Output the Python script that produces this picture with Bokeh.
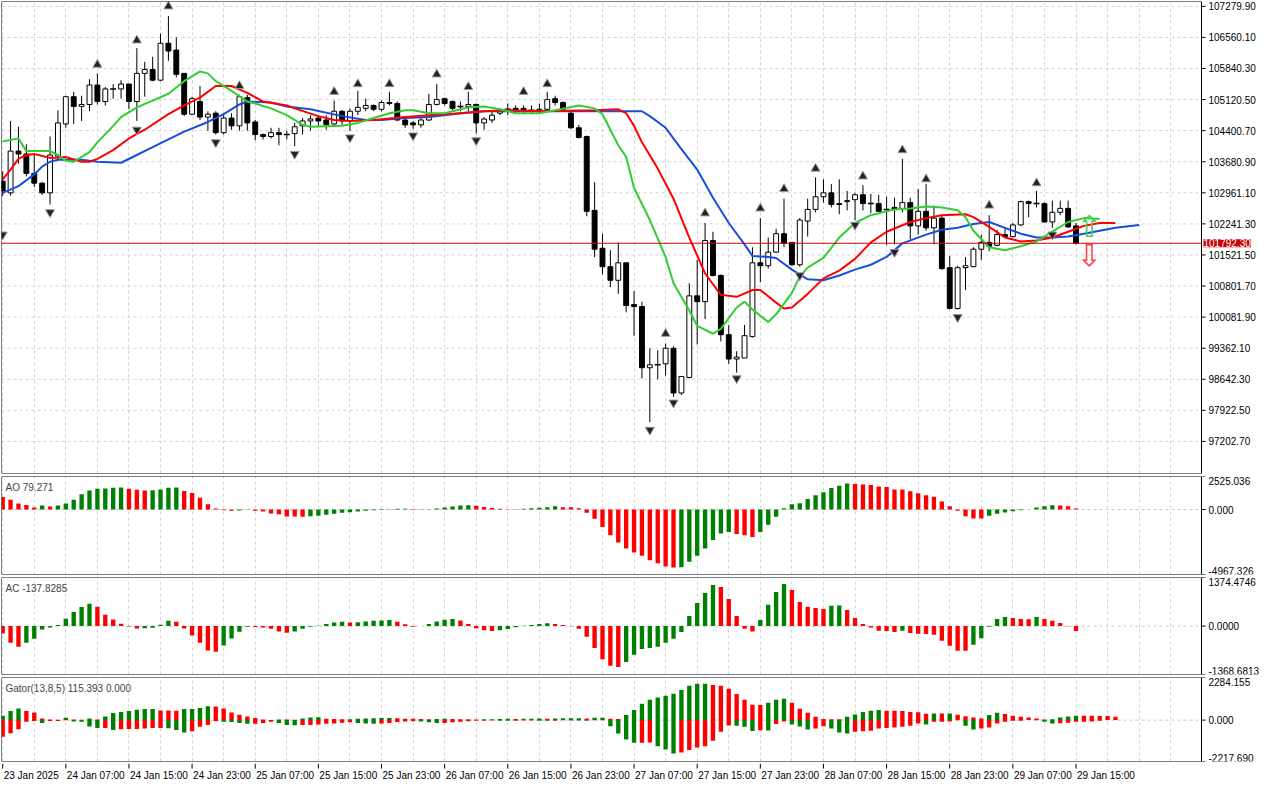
from bokeh.plotting import figure
from bokeh.models import FixedTicker, Label, Range1d, Grid, BoxAnnotation
from bokeh.layouts import column
from bokeh.embed import file_html
from bokeh.resources import INLINE
from bokeh.core.properties import value

# ---------------- data (hourly candles, index 0 = 23 Jan 2025 23:00) ----------------
opens = [103230,102960,103927,103860,103410,103185,102960,103815,104557,105187,
         104962,105007,105457,105075,105367,105367,105480,105075,105727,105817,
         105570,106425,106267,105727,104782,105075,104715,104805,104355,104692,
         104512,105165,104602,104310,104265,104355,104310,104332,104512,104625,
         104692,104647,104557,104850,104625,104850,104917,104985,104895,105052,
         105030,104647,104580,104535,104647,105007,105142,105075,104962,104962,
         105007,104580,104647,104805,104895,104917,104917,104872,104872,104895,
         105142,105052,104805,104467,104265,102555,101677,101250,100935,101340,
         100372,100327,98910,98977,99000,99360,98325,98685,100575,100440,
         101857,101047,99675,99112,99135,99630,101340,101272,101587,102015,
         101812,101295,102307,102577,102870,102960,102690,102757,102802,102915,
         102712,102712,102577,102622,102600,102735,102195,102532,102150,102375,
         101227,100282,101227,101250,101655,101812,101745,101992,101947,102217,
         102757,102712,102712,102285,102510,102600,102195]
highs = [103455,104625,104490,104085,103860,103207,104265,104872,105210,105300,
         105210,105592,105727,105412,105480,105570,105480,106312,105997,106110,
         106650,107055,106560,105727,105187,105435,104850,104850,104805,104805,
         105232,105232,104647,104332,104467,104467,104400,104580,104692,104760,
         104760,104760,105097,104872,104917,105322,105142,105007,105097,105300,
         105075,104670,104625,104692,105255,105480,105165,105097,105075,105300,
         105030,104715,104850,104917,105030,104985,104985,104985,105030,105300,
         105210,105075,104850,104535,104287,103207,102015,101632,101812,101340,
         100687,100440,99360,99315,99472,99405,98707,100867,101407,102262,
         102060,101070,99900,99292,99900,101700,102375,101925,102127,102825,
         101812,102375,102825,103320,103275,103162,103275,103005,102960,103140,
         102937,102915,102870,102847,103747,102847,103050,103162,102667,102442,
         101497,101272,101475,101700,101992,102442,102105,102172,102262,102780,
         102780,103005,102735,102780,102780,102780,102262]
lows = [102892,102892,103635,103342,103095,102915,102690,103725,104467,104557,
        104625,104850,105007,104985,105142,105142,104895,104625,105187,105547,
        105547,106020,105637,104737,104760,104647,104400,104310,104310,104422,
        104400,104400,104175,104197,104220,104062,104197,104040,104310,104400,
        104512,104422,104535,104535,104400,104760,104850,104850,104850,104985,
        104625,104467,104445,104467,104625,104985,104985,104872,104850,104850,
        104332,104422,104580,104760,104760,104805,104805,104805,104805,104850,
        104985,104850,104445,104220,102420,101475,101070,100777,100620,100192,
        99652,98662,97650,98640,98730,98235,98280,98662,99450,100035,
        101025,99517,99000,98797,99135,99607,100890,101205,101565,101700,
        101272,101250,101947,102510,102735,102622,102465,102555,102330,102555,
        102487,102510,101745,101767,102510,101880,101992,102082,101767,101182,
        100260,100260,100710,101250,101407,101610,101722,101925,101925,102195,
        102397,102622,102262,102150,102442,102150,101767]
closes = [103005,103927,103860,103410,103185,102960,103837,104580,105187,104962,
          105007,105457,105075,105367,105367,105480,105075,105727,105817,105570,
          106425,106245,105705,104782,105142,104715,104782,104355,104692,104512,
          105187,104580,104310,104265,104355,104310,104310,104490,104625,104670,
          104625,104535,104850,104625,104850,104940,104985,104895,105052,105030,
          104647,104535,104535,104647,105007,105120,105030,104917,104962,105007,
          104580,104670,104760,104850,104895,104872,104850,104872,104895,105120,
          105052,104895,104467,104242,102532,101655,101250,100935,101340,100350,
          100327,98910,98977,98977,99360,98325,98707,100575,100440,101857,
          101047,99675,99112,99157,99652,101340,101272,101587,102015,101790,
          101295,102330,102577,102870,102960,102690,102712,102780,102915,102712,
          102712,102532,102577,102577,102735,102195,102532,102150,102375,101205,
          100282,101227,101272,101655,101812,101722,101992,101947,102217,102757,
          102712,102712,102285,102510,102600,102172,101792.3]

# Alligator (shifted lines extend beyond last bar)
jaw_x = [0,2,4,5,6,7,10,12,15,17,19,21,23,26,28,30,31,34,36,39,43,46,48,51,54,56,58,61,64,70,
         75,81,82,84,86,88,90,92,94,95,97,98,100,102,104,106,108,110,112,114,117,119,121,123,125,
         127,129,131,133,135,137,139,141,144]
jaw_y = [102960,103117,103387,103567,103680,103725,103725,103680,103657,103837,104017,104197,104377,
         104602,104782,105007,105075,105052,104962,104895,104737,104647,104647,104692,104715,104760,
         104805,104850,104850,104850,104850,104850,104737,104467,103972,103500,102847,102262,101767,
         101497,101475,101452,101182,100957,100935,101047,101182,101295,101475,101790,101992,102105,
         102150,102240,102285,102150,102015,101925,101925,101947,102015,102082,102150,102217]
teeth_x = [0,1,2,3,4,6,8,10,11,12,14,16,18,21,23,25,27,29,31,33,36,37,40,42,44,47,51,54,56,58,
           61,64,68,75,78,79,80,81,83,85,87,89,91,93,95,96,98,99,100,102,104,106,108,110,112,115,
           117,119,122,123,125,127,129,131,133,135,137,139,141]
teeth_y = [103275,103500,103747,103837,103860,103770,103792,103680,103680,103747,103950,104220,
           104422,104782,104985,105165,105435,105435,105277,105075,104985,104917,104737,104647,
           104625,104647,104715,104760,104782,104805,104850,104872,104850,104872,104895,104805,
           104512,104130,103522,102825,101925,101092,100597,100552,100710,100710,100417,100282,
           100305,100620,100980,101160,101430,101812,102060,102285,102375,102442,102465,102397,
           102172,101925,101835,101857,101925,102060,102195,102262,102262]
lips_x = [0,2,3,6,7,8,9,11,12,14,15,17,19,21,23,25,26,27,29,31,32,34,36,38,39,43,45,47,49,51,
          52,54,56,57,59,61,63,65,68,70,73,75,76,78,79,80,82,84,85,87,88,90,91,93,94,95,97,98,
          100,101,102,104,106,108,110,113,115,117,119,121,122,123,125,127,129,131,133,135,137,139]
lips_y = [104152,104220,103927,103927,103837,103702,103680,103905,104130,104512,104715,104940,
          105097,105255,105547,105772,105727,105547,105322,105075,105030,104917,104760,104535,
          104490,104512,104580,104692,104805,104872,104872,104805,104805,104850,104940,104962,
          104895,104805,104805,104872,104985,104917,104782,104062,103792,103072,102330,101475,
          100867,100237,99877,99697,99810,100305,100440,100260,99967,100147,100642,101025,
          101227,101452,101925,102262,102442,102577,102600,102645,102622,102555,102397,102082,
          101700,101632,101722,101835,102060,102285,102375,102352]

# Fractals (arrow positions)
frac_up_x = [12,17,21,30,42,45,49,55,59,66,69,84,89,96,99,103,109,114,117,125,131]
frac_up_y = [105930,106492,107280,105435,105300,105480,105480,105705,105412,105300,105480,
             99697,102487,102600,103050,103522,103342,103950,103275,102667,103185]
frac_dn_x = [0,6,17,27,37,44,52,60,82,85,93,101,108,113,121,133]
frac_dn_y = [101992,102510,104422,104130,103860,104242,104287,104175,97470,98100,98662,
             101047,102217,101587,100080,101992]

# signal arrows
sig_up_x, sig_up_y = [137.7], [102170]
sig_dn_x, sig_dn_y = [137.7], [101500]
last_price = 101792.3
last_price_label = "101792.30"

# Awesome Oscillator
ao = [960,757,454,353,151,303,227,303,454,757,1160,1463,1590,1610,1665,1680,1590,1514,1463,1470,
      1540,1665,1680,1413,1262,908,404,76,-50,-100,-80,30,-100,-150,-303,-353,-530,-540,-550,-510,
      -480,-400,-330,-250,-200,-150,-100,-60,-30,20,50,60,40,20,30,80,150,230,300,330,
      280,200,120,60,20,30,60,90,130,180,250,175,170,100,-250,-706,-1337,-1968,-2523,-2977,
      -3280,-3532,-3885,-4112,-4365,-4440,-4420,-3986,-3532,-2977,-2321,-1842,-1716,-1867,-1968,
      -2094,-1716,-1160,-555,100,404,480,807,1085,1312,1640,1817,1993,1943,1918,1867,1766,1716,
      1540,1530,1388,1236,1085,984,606,252,-101,-505,-681,-690,-480,-328,-227,-126,-50,10,151,
      252,328,303,252,79.271]
# Accelerator Oscillator
ac = [-207,-471,-584,-471,-358,-94,-38,28,207,396,537,632,547,320,189,66,-10,-66,-60,-47,
      38,151,122,-66,-264,-471,-688,-726,-547,-349,-160,-19,-25,-38,-75,-151,-189,-151,-75,-19,
      10,60,100,120,100,110,130,150,160,170,120,50,-20,0,60,130,180,200,160,60,
      -60,-120,-140,-120,-80,-30,10,30,60,80,57,28,-5,-75,-302,-622,-934,-1122,-1160,-1018,
      -811,-651,-622,-585,-472,-358,-170,283,651,934,1160,1103,764,283,-75,-151,170,604,962,1188,
      1018,679,547,509,481,575,580,453,226,57,-38,-132,-140,-170,-132,-198,-217,-220,-245,-415,
      -556,-698,-700,-528,-340,-19,198,255,226,198,196,255,198,151,85,-5,-137.8285]
# Gator oscillator (upper / lower histograms)
gator_up = [232,483,625,483,411,89,36,18,125,36,18,89,36,197,375,429,483,554,590,600,
            518,510,500,590,600,643,750,733,625,411,286,197,107,36,10,36,30,25,89,143,
            150,80,60,40,50,70,90,100,110,120,100,80,70,60,50,60,70,60,50,40,
            30,40,50,60,70,60,70,80,90,80,89,95,100,105,90,125,130,71,54,268,
            536,876,1090,1215,1305,1412,1608,1841,1948,1955,1876,1841,1680,1394,1090,822,815,929,1090,1144,
            929,608,393,179,54,50,45,179,304,429,500,536,500,498,495,429,425,340,357,350,
            355,286,214,143,89,268,393,322,232,179,143,89,36,50,143,196,232,230,228,226,220,179]
gator_dn = [-894,-697,-483,-89,-50,-161,-50,-45,-10,-71,-89,-340,-429,-420,-536,-483,-480,-478,-447,-429,
            -425,-440,-536,-661,-590,-357,-268,-54,-89,-95,-161,-197,-190,-161,-89,-161,-268,-270,-265,-260,
            -230,-200,-180,-140,-120,-150,-180,-200,-180,-150,-100,-80,-60,-80,-120,-160,-150,-110,-90,-60,
            -40,-30,-20,-30,-40,-30,-20,-15,-30,-40,-36,-5,-18,-18,-36,-5,-3,-322,-715,-1036,
            -1215,-1210,-1200,-1394,-1573,-1787,-1733,-1608,-1465,-1394,-1108,-625,-286,-300,-350,-580,-540,-560,-214,-71,
            -232,-340,-500,-447,-322,-447,-661,-715,-625,-590,-572,-447,-429,-393,-357,-304,-179,-232,-89,-85,
            -80,-10,-304,-500,-447,-393,-179,-89,-36,-30,0,-10,-89,-179,-170,-143,-89,-85,-80,-36,0,0]

main_ticks = [97202.70, 97922.50, 98642.30, 99362.10, 100081.90, 100801.70, 101521.50, 102241.30,
              102961.10, 103680.90, 104400.70, 105120.50, 105840.30, 106560.10, 107279.90]
main_tick_labels = ["97202.70", "97922.50", "98642.30", "99362.10", "100081.90", "100801.70",
                    "101521.50", "102241.30", "102961.10", "103680.90", "104400.70", "105120.50",
                    "105840.30", "106560.10", "107279.90"]
ao_ticks = [2525.036, 0.0, -4967.326]
ao_tick_labels = ["2525.036", "0.000", "-4967.326"]
ac_ticks = [1374.4746, 0.0, -1368.6813]
ac_tick_labels = ["1374.4746", "0.0000", "-1368.6813"]
gator_ticks = [2284.155, 0.0, -2217.690]
gator_tick_labels = ["2284.155", "0.000", "-2217.690"]
time_idx = [0, 8, 16, 24, 32, 40, 48, 56, 64, 72, 80, 88, 96, 104, 112, 120, 128, 136]
time_labels = ["23 Jan 2025", "24 Jan 07:00", "24 Jan 15:00", "24 Jan 23:00", "25 Jan 07:00",
               "25 Jan 15:00", "25 Jan 23:00", "26 Jan 07:00", "26 Jan 15:00", "26 Jan 23:00",
               "27 Jan 07:00", "27 Jan 15:00", "27 Jan 23:00", "28 Jan 07:00", "28 Jan 15:00",
               "28 Jan 23:00", "29 Jan 07:00", "29 Jan 15:00"]
grid_idx = list(range(0, 152, 4))

# ---------------- styling ----------------
FONT = "Liberation Sans"
FW = 1200          # chart frame width (px)
AXW = 61           # width of the price scale area
GREEN = "#008000"
RED = "#ff0000"
GRIDC = "#d4d4d4"
XSTART, XEND = -0.15, 151.9
X_END_ALL = XEND + AXW * (XEND - XSTART) / FW
x_range = Range1d(XSTART, X_END_ALL)


def panel(fh, y0, y1):
    p = figure(frame_width=FW + AXW, frame_height=fh, x_range=x_range,
               y_range=Range1d(y0, y1), output_backend="svg", toolbar_location=None,
               x_axis_location=None, y_axis_location=None,
               min_border_left=1, min_border_right=0, min_border_top=1, min_border_bottom=1,
               background_fill_color="white", border_fill_color="white")
    p.outline_line_color = None
    p.grid.visible = False
    p.add_layout(Grid(dimension=0, ticker=FixedTicker(ticks=grid_idx),
                      grid_line_color=GRIDC, grid_line_dash="3 3"))
    return p


def price_scale(p, ticks, labels, baselines):
    n = len(ticks)
    p.add_layout(BoxAnnotation(right=XEND, fill_alpha=0, line_color="black", line_width=1,
                               line_alpha=1))
    p.ray(x=[XEND] * n, y=ticks, length=4, length_units="screen", angle=0,
          line_color="black", line_width=1)
    for t, lab, b in zip(ticks, labels, baselines):
        p.text(x=[XEND], y=[t], text=[lab], x_offset=7, text_align="left",
               text_baseline=b, text_font=value(FONT), text_font_size="10px",
               text_color="black")


def hist_colors(vals, first, use_abs=False):
    cols, prev, c = [], None, first
    for v in vals:
        a = abs(v) if use_abs else v
        if prev is not None:
            if a > prev:
                c = GREEN
            elif a < prev:
                c = RED
        cols.append(c)
        prev = a
    return cols


def indicator(fh, ticks, labels, title):
    p = panel(fh, ticks[2], ticks[0])
    p.segment(x0=[XSTART], x1=[XEND], y0=[0], y1=[0], line_color="#c8c8c8",
              line_dash="3 3", line_width=1)
    price_scale(p, ticks, labels, ["top", "middle", "bottom"])
    p.add_layout(Label(x=XSTART, y=ticks[0], x_offset=4, y_offset=-5, text=title,
                       text_baseline="top", text_font=FONT, text_font_size="10px"))
    return p


# ---------------- main price panel ----------------
p = panel(472, 96460, 107392)
n_t = len(main_ticks)
p.segment(x0=[XSTART] * n_t, x1=[XEND] * n_t, y0=main_ticks, y1=main_ticks,
          line_color=GRIDC, line_dash="3 3", line_width=1)
price_scale(p, main_ticks, main_tick_labels, ["middle"] * n_t)

idx = list(range(len(closes)))
p.segment(x0=idx, y0=lows, x1=idx, y1=highs, line_color="black", line_width=1)
bull = [i for i in idx if closes[i] > opens[i]]
bear = [i for i in idx if closes[i] < opens[i]]
doji = [i for i in idx if closes[i] == opens[i]]
p.vbar(x=bull, bottom=[opens[i] for i in bull], top=[closes[i] for i in bull],
       width=0.62, fill_color="white", line_color="black", line_width=1)
p.vbar(x=bear, bottom=[closes[i] for i in bear], top=[opens[i] for i in bear],
       width=0.62, fill_color="black", line_color="black", line_width=1)
p.scatter(x=doji, y=[closes[i] for i in doji], marker="dash", size=6,
          line_color="black", line_width=1.5)

p.line(jaw_x, jaw_y, line_color="#1450dc", line_width=2)
p.line(teeth_x, teeth_y, line_color="#ff0000", line_width=2)
p.line(lips_x, lips_y, line_color="#32cd32", line_width=2)

p.scatter(x=frac_up_x, y=frac_up_y, marker="triangle", size=9,
          fill_color="#222222", line_color="#9a9a9a", line_width=1)
p.scatter(x=frac_dn_x, y=frac_dn_y, marker="inverted_triangle", size=9,
          fill_color="#222222", line_color="#9a9a9a", line_width=1)

p.segment(x0=[XSTART], x1=[XEND], y0=[last_price], y1=[last_price],
          line_color="#d40000", line_width=1)
p.text(x=sig_up_x, y=sig_up_y, text=["⇧"], text_font=value("DejaVu Sans"),
       text_font_size="30px", text_color="#4cc84c", text_align="center", text_baseline="middle")
p.text(x=sig_dn_x, y=sig_dn_y, text=["⇩"], text_font=value("DejaVu Sans"),
       text_font_size="30px", text_color="#ff4040", text_align="center", text_baseline="middle")
p.add_layout(Label(x=XEND, y=last_price, x_offset=2, text=last_price_label, text_align="left",
                   text_baseline="middle", text_color="white", text_font=FONT,
                   text_font_size="10px", background_fill_color="#c80000"))

# ---------------- AO ----------------
pao = indicator(98, ao_ticks, ao_tick_labels, "AO 79.271")
pao.vbar(x=list(range(len(ao))), top=ao, bottom=0, width=0.55,
         fill_color=hist_colors(ao, RED), line_color=None)

# ---------------- AC ----------------
pac = indicator(97, ac_ticks, ac_tick_labels, "AC -137.8285")
pac.vbar(x=list(range(len(ac))), top=ac, bottom=0, width=0.55,
         fill_color=hist_colors(ac, RED), line_color=None)

# ---------------- Gator ----------------
pg = indicator(84, gator_ticks, gator_tick_labels, "Gator(13,8,5) 115.393 0.000")
gx = list(range(len(gator_up)))
pg.vbar(x=gx, top=gator_up, bottom=0, width=0.55,
        fill_color=hist_colors(gator_up, GREEN), line_color=None)
pg.vbar(x=gx, top=0, bottom=gator_dn, width=0.55,
        fill_color=hist_colors(gator_dn, RED, use_abs=True), line_color=None)

# ---------------- time scale ----------------
tf = figure(frame_width=FW + AXW, frame_height=18, x_range=x_range, y_range=Range1d(0, 1),
            output_backend="svg", toolbar_location=None, x_axis_location=None,
            y_axis_location=None, min_border_left=1, min_border_right=0,
            min_border_top=0, min_border_bottom=0)
tf.outline_line_color = None
tf.grid.visible = False
tf.segment(x0=time_idx, x1=time_idx, y0=[1.0] * len(time_idx), y1=[0.72] * len(time_idx),
           line_color="black", line_width=1)
tf.text(x=time_idx, y=[0.36] * len(time_idx), text=time_labels, text_align="left",
        text_baseline="middle", text_font=value(FONT), text_font_size="10px",
        text_color="black", x_offset=1)

layout = column(p, pao, pac, pg, tf, spacing=1)
open("out.html", "w").write(file_html(layout, INLINE))
